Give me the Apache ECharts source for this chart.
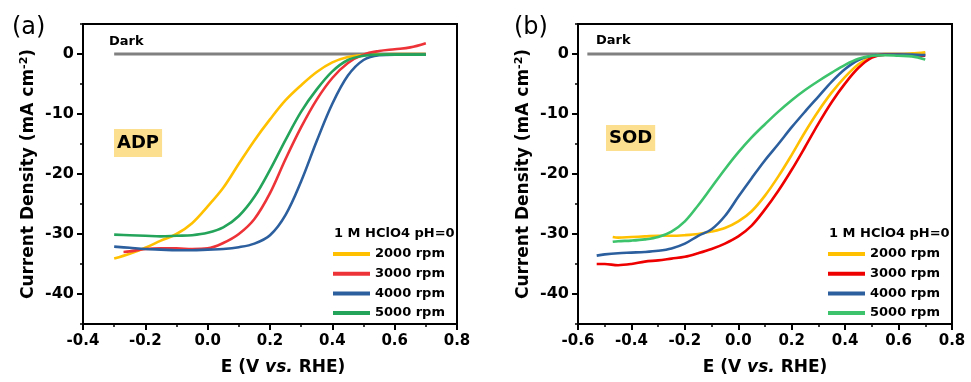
<!DOCTYPE html>
<html>
<head>
<meta charset="utf-8">
<script src="https://cdn.jsdelivr.net/npm/echarts@6.0.0/dist/echarts.min.js"></script>
<style>
html,body{margin:0;padding:0;background:#fff;}
#chart{width:971px;height:382px;}
</style>
</head>
<body>
<div id="chart"></div>
<script>
// ---------- data ----------
const speedNames = ['2000 rpm', '3000 rpm', '4000 rpm', '5000 rpm'];
const xTicksA = [-0.4, -0.2, 0.0, 0.2, 0.4, 0.6, 0.8];
const xTicksB = [-0.6, -0.4, -0.2, 0.0, 0.2, 0.4, 0.6, 0.8];
const yTicks = [-40, -30, -20, -10, 0];
const yMinorTicks = [-45, -35, -25, -15, -5, 5];

// Panel (a) ADP: potential (V vs. RHE)
const potA = [-0.30,-0.25,-0.20,-0.15,-0.10,-0.05,0.00,0.05,0.10,0.15,0.20,0.25,0.30,0.35,0.40,0.45,0.50,0.55,0.60,0.65,0.70];
const potA3000 = [-0.27,-0.25,-0.20,-0.15,-0.10,-0.05,0.00,0.05,0.10,0.15,0.20,0.25,0.30,0.35,0.40,0.45,0.50,0.55,0.60,0.65,0.70];
const adp2000 = [-34.1,-33.3,-32.3,-31.1,-30.0,-28.2,-25.4,-22.3,-18.3,-14.4,-10.9,-7.7,-5.2,-3.0,-1.4,-0.5,-0.15,-0.05,0,0,0];
const adp3000 = [-33.0,-32.9,-32.5,-32.4,-32.4,-32.5,-32.4,-31.5,-30.0,-27.5,-23.2,-17.5,-12.2,-7.6,-4.0,-1.5,-0.1,0.5,0.8,1.1,1.8];
const adp4000 = [-32.1,-32.3,-32.5,-32.6,-32.7,-32.7,-32.6,-32.5,-32.2,-31.6,-30.2,-26.8,-21.2,-14.5,-8.3,-3.6,-1.0,-0.2,-0.1,-0.1,-0.1];
const adp5000 = [-30.1,-30.2,-30.3,-30.4,-30.3,-30.2,-29.8,-28.9,-27.0,-23.8,-19.3,-14.3,-9.6,-5.9,-2.9,-1.0,-0.3,-0.1,-0.1,-0.1,-0.1];
const darkA = [[-0.30, 0], [0.70, 0]];

// Panel (b) SOD
const potBLong = [-0.53,-0.50,-0.45,-0.40,-0.35,-0.30,-0.25,-0.20,-0.15,-0.10,-0.05,0.00,0.05,0.10,0.15,0.20,0.25,0.30,0.35,0.40,0.45,0.50,0.55,0.60,0.65,0.70];
const potBShort = [-0.47,-0.45,-0.40,-0.35,-0.30,-0.25,-0.20,-0.15,-0.10,-0.05,0.00,0.05,0.10,0.15,0.20,0.25,0.30,0.35,0.40,0.45,0.50,0.55,0.60,0.65,0.70];
const sod2000 = [-30.5,-30.6,-30.5,-30.4,-30.3,-30.3,-30.2,-30.0,-29.6,-29.0,-27.9,-26.2,-23.6,-20.4,-16.8,-13.0,-9.5,-6.4,-3.8,-1.7,-0.4,0,0,0.1,0.3];
const sod3000 = [-35.0,-35.0,-35.2,-35.0,-34.6,-34.4,-34.1,-33.8,-33.2,-32.5,-31.6,-30.4,-28.6,-25.9,-22.8,-19.3,-15.5,-11.6,-8.0,-4.9,-2.3,-0.6,-0.1,-0.1,-0.2,-0.3];
const sod4000 = [-33.6,-33.4,-33.2,-33.1,-33.0,-32.8,-32.4,-31.6,-30.3,-29.2,-27.0,-23.8,-20.7,-17.7,-15.0,-12.2,-9.6,-7.1,-4.6,-2.5,-1.0,-0.3,-0.1,-0.1,-0.1,-0.2];
const sod5000 = [-31.3,-31.2,-31.1,-30.9,-30.5,-29.6,-27.9,-25.2,-22.2,-19.2,-16.4,-13.9,-11.7,-9.6,-7.7,-6.0,-4.5,-3.1,-1.8,-0.8,-0.3,-0.2,-0.3,-0.4,-0.9];
const darkB = [[-0.565, 0], [0.70, 0]];

const colorsA = ['#FFC000', '#EE3338', '#2C5F9E', '#23A45A'];
const colorsB = ['#FFC000', '#EE0000', '#2C5F9E', '#3CC36B'];

// ---------- build ----------
const FF = '"DejaVu Sans", sans-serif';
const zip = (xs, ys) => xs.map((x, i) => [x, ys[i]]);

function xAxisCfg(grid, min, padLeft) {
  return {
    type: 'value', gridIndex: grid, min: min, max: 0.8, interval: 0.2,
    axisLine: { show: true, onZero: false, lineStyle: { color: '#000', width: 2 } },
    axisTick: { show: true, length: 6, lineStyle: { color: '#000', width: 2 } },
    minorTick: { show: true, splitNumber: 2, length: 3, lineStyle: { color: '#000', width: 1.5 } },
    splitLine: { show: false }, minorSplitLine: { show: false },
    axisLabel: { color: '#000', fontFamily: FF, fontWeight: 'bold', fontSize: 15, margin: 10,
      formatter: v => (Math.abs(v) < 1e-9 ? 0 : v).toFixed(1) },
    name: 'E (V {i|vs.} RHE)', nameLocation: 'middle', nameGap: 35,
    nameTextStyle: { color: '#000', fontFamily: FF, fontWeight: 'bold', fontSize: 17,
      padding: [0, 0, 0, padLeft],
      rich: { i: { fontFamily: FF, fontWeight: 'bold', fontStyle: 'italic', fontSize: 17, color: '#000' } } }
  };
}
function yAxisMain(grid) {
  return {
    type: 'value', gridIndex: grid, min: -45, max: 5, interval: 5, position: 'left',
    axisLine: { show: true, onZero: false, lineStyle: { color: '#000', width: 2 } },
    axisTick: { show: true, length: 6, customValues: yTicks.slice(), lineStyle: { color: '#000', width: 2 } },
    splitLine: { show: false },
    axisLabel: { color: '#000', fontFamily: FF, fontWeight: 'bold', fontSize: 16, margin: 9, customValues: yTicks.slice() },
    name: 'Current Density (mA cm{sup|-2})', nameLocation: 'middle', nameGap: 44,
    nameTextStyle: { color: '#000', fontFamily: FF, fontWeight: 'bold', fontSize: 17, lineHeight: 20,
      rich: { sup: { fontFamily: FF, fontWeight: 'bold', fontSize: 11, color: '#000', verticalAlign: 'top', lineHeight: 20 } } }
  };
}
function yAxisMinor(grid) {
  return {
    type: 'value', gridIndex: grid, min: -45, max: 5, interval: 5, position: 'left',
    axisLine: { show: false, onZero: false },
    axisTick: { show: true, length: 3, customValues: yMinorTicks.slice(), lineStyle: { color: '#000', width: 1.5 } },
    axisLabel: { show: false }, splitLine: { show: false }
  };
}
function lineSeries(name, data, color, xi, yi) {
  return { type: 'line', name: name, data: data, xAxisIndex: xi, yAxisIndex: yi,
    showSymbol: false, symbol: 'none', smooth: 0.35, z: 3,
    lineStyle: { color: color, width: 2.6 }, itemStyle: { color: color } };
}

const seriesA = [zip(potA, adp2000), zip(potA3000, adp3000), zip(potA, adp4000), zip(potA, adp5000)];
const seriesB = [zip(potBShort, sod2000), zip(potBLong, sod3000), zip(potBLong, sod4000), zip(potBShort, sod5000)];

const series = [];
series.push({ type: 'line', name: 'Dark', data: darkA, xAxisIndex: 0, yAxisIndex: 0, symbol: 'none',
  lineStyle: { color: '#808080', width: 3 }, itemStyle: { color: '#808080' }, z: 2 });
series.push({ type: 'line', name: 'Dark', data: darkB, xAxisIndex: 1, yAxisIndex: 2, symbol: 'none',
  lineStyle: { color: '#808080', width: 3 }, itemStyle: { color: '#808080' }, z: 2 });
speedNames.forEach((n, i) => series.push(lineSeries(n, seriesA[i], colorsA[i], 0, 0)));
speedNames.forEach((n, i) => series.push(lineSeries(n, seriesB[i], colorsB[i], 1, 2)));

function legendCfg(left, colors) {
  return {
    left: left, top: 247, orient: 'vertical', padding: 0, itemWidth: 37, itemHeight: 4, itemGap: 5.7,
    icon: 'rect', selectedMode: false,
    textStyle: { color: '#000', fontFamily: FF, fontWeight: 'bold', fontSize: 13, lineHeight: 14 },
    data: speedNames.map((n, i) => ({ name: n, icon: 'rect', itemStyle: { color: colors[i] } }))
  };
}

function txt(x, y, text, font, extra) {
  return Object.assign({ type: 'text', x: x, y: y, z: 10,
    style: Object.assign({ text: text, font: font, fill: '#000', align: 'left', verticalAlign: 'middle' }, extra || {}) });
}

const option = {
  animation: false,
  backgroundColor: '#fff',
  grid: [
    { left: 83, top: 24, width: 374, height: 300, show: true, borderColor: '#000', borderWidth: 2, backgroundColor: 'transparent' },
    { left: 578, top: 24, width: 374, height: 300, show: true, borderColor: '#000', borderWidth: 2, backgroundColor: 'transparent' }
  ],
  xAxis: [xAxisCfg(0, -0.4, 26), xAxisCfg(1, -0.6, 0)],
  yAxis: [yAxisMain(0), yAxisMinor(0), yAxisMain(1), yAxisMinor(1)],
  legend: [legendCfg(333, colorsA), legendCfg(828, colorsB)],
  series: series,
  graphic: [
    txt(12, 28, '(a)', '24px "DejaVu Sans"'),
    txt(514, 28, '(b)', '24px "DejaVu Sans"'),
    txt(109, 42, 'Dark', 'bold 13px "DejaVu Sans"'),
    txt(596, 41, 'Dark', 'bold 13px "DejaVu Sans"'),
    txt(114, 129, 'ADP', 'bold 18px "DejaVu Sans"', { verticalAlign: 'top', backgroundColor: '#FCDF8F', padding: [4, 3, 4, 3], lineHeight: 20 }),
    txt(606, 125, 'SOD', 'bold 18px "DejaVu Sans"', { verticalAlign: 'top', backgroundColor: '#FCDF8F', padding: [3, 3, 3, 3], lineHeight: 20 }),
    txt(334, 234, '1 M HClO4 pH=0', 'bold 13px "DejaVu Sans"'),
    txt(829, 234, '1 M HClO4 pH=0', 'bold 13px "DejaVu Sans"')
  ]
};

const chart = echarts.init(document.getElementById('chart'), null, { renderer: 'canvas' });
chart.setOption(option);
</script>
</body>
</html>
